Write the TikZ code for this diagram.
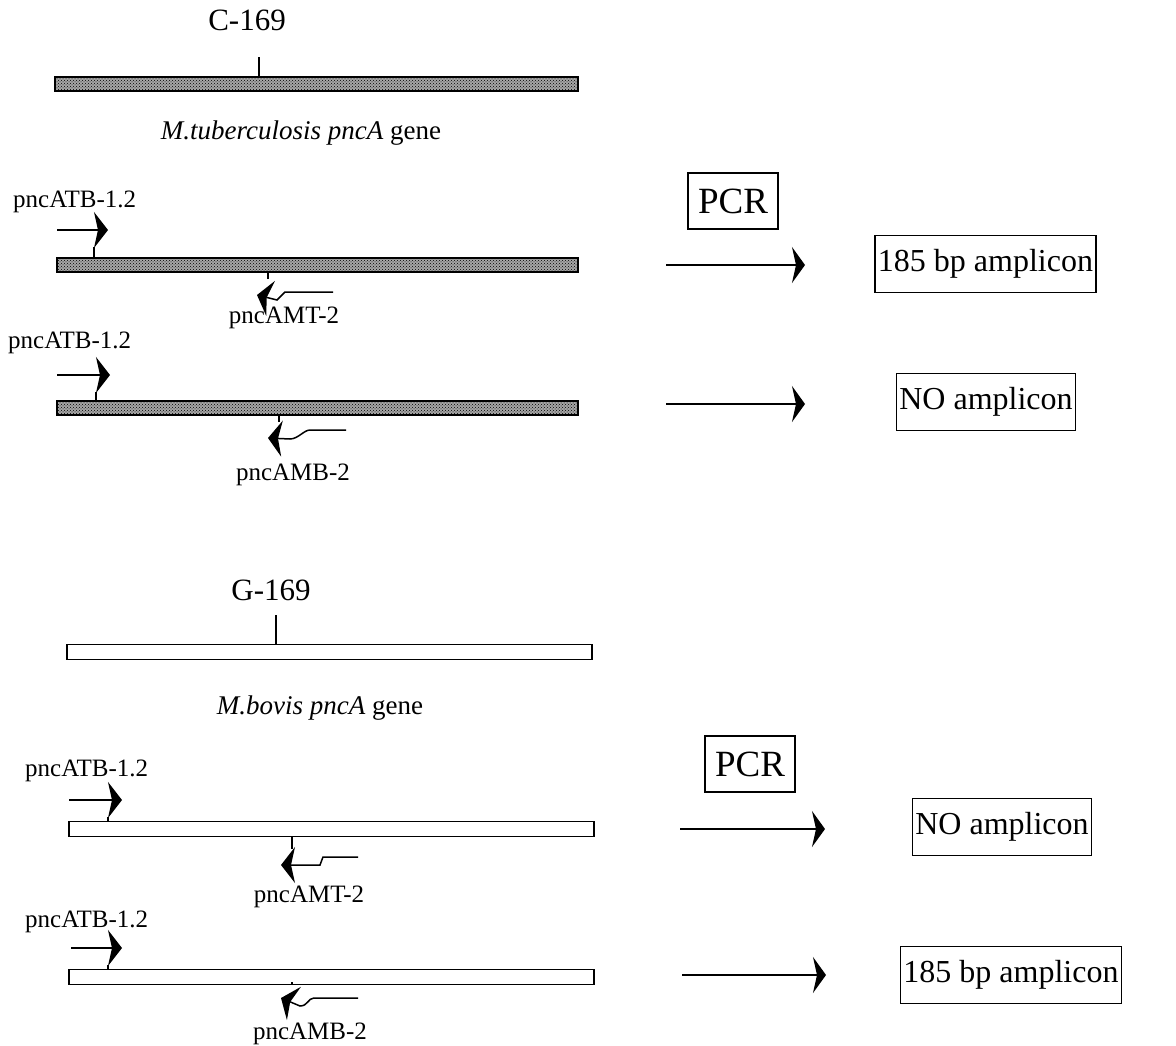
\documentclass[tikz,border=0pt]{standalone}
\usepackage{fontspec}
\setmainfont{Liberation Serif}
\usetikzlibrary{arrows.meta,positioning,calc,patterns}

\begin{document}
\begin{tikzpicture}[x=1pt, y=-1pt,
    tbgene/.style={rectangle, draw, line width=1.8pt, preaction={fill=black!35}, pattern=crosshatch dots, pattern color=black, minimum height=14pt, inner sep=0pt},
    bvgene/.style={rectangle, draw, line width=1.4pt, minimum height=15pt, inner sep=0pt},
    site/.style={font=\fontsize{31}{35}\selectfont},
    glabel/.style={font=\fontsize{27}{31}\selectfont},
    plabel/.style={font=\fontsize{25}{28}\selectfont, inner sep=0pt},
    result/.style={rectangle, draw, line width=1.3pt, font=\fontsize{32}{36}\selectfont, minimum height=57pt, inner xsep=3pt},
    pcr/.style={rectangle, draw, line width=1.3pt, font=\fontsize{37}{40}\selectfont, minimum width=90pt, minimum height=56pt, inner xsep=2pt},
    primer/.style={line width=1.5pt, -{Stealth[length=14pt, width=36pt, inset=4pt]}},
    stem/.style={line width=1.5pt},
    flow/.style={line width=1.5pt, -{Stealth[length=13pt, width=36pt, inset=4pt]}}
]
    \useasboundingbox (0,0) rectangle (1176,1045);

    % M. tuberculosis pncA
    \node[site] (c169) at (247,20) {C-169};
    \node[tbgene, minimum width=523pt] (tb0) at (316.5,84) {};
    \coordinate (c169t) at (259,57);
    \draw[stem] (c169t) -- (c169t |- tb0.north);
    \node[glabel] (tbname) at (301,133) {\textit{M.tuberculosis pncA} gene};

    \node[plabel, anchor=west] (atb1) at (13,202) {pncATB-1.2};
    \node[tbgene, minimum width=521pt] (tb1) at (317.5,265) {};
    \coordinate (f1s) at (57,230);
    \coordinate (f1e) at (108,230);
    \coordinate (f1b) at ($(f1e)+(-14,17)$);
    \draw[primer] (f1s) -- (f1e);
    \draw[stem] (f1b) -- (f1b |- tb1.north);
    \coordinate (r1s) at (257,295);
    \coordinate (r1e) at (333,292);
    \coordinate (r1b) at ($(r1s)+(11,-16)$);
    \draw[primer] (r1e) -- ++(-48,0) -- ++(-8,8) -- (r1s);
    \draw[stem] (r1b) -- (r1b |- tb1.south);
    \node[plabel] (amt1) at (284,318) {pncAMT-2};

    \node[plabel, anchor=west] (atb2) at (8,343) {pncATB-1.2};
    \node[tbgene, minimum width=521pt] (tb2) at (317.5,408) {};
    \coordinate (f2s) at (57,375);
    \coordinate (f2e) at (110,375);
    \coordinate (f2b) at ($(f2e)+(-14,17)$);
    \draw[primer] (f2s) -- (f2e);
    \draw[stem] (f2b) -- (f2b |- tb2.north);
    \coordinate (r2s) at (268,438);
    \coordinate (r2e) at (346,430);
    \coordinate (r2b) at ($(r2s)+(11,-16)$);
    \draw[primer] (r2e) -- ++(-36,0) .. controls +(-6,0) and +(8,0) .. ++(-20,9) -- (r2s);
    \draw[stem] (r2b) -- (r2b |- tb2.south);
    \node[plabel] (amb1) at (293,475) {pncAMB-2};

    \node[pcr] (pcr1) at (733,201) {PCR};
    \coordinate (a1s) at (666,265);
    \coordinate (a1e) at (805,265);
    \draw[flow] (a1s) -- (a1e);
    \node[result] (res1) at (985.5,264) {185 bp amplicon};
    \coordinate (a2s) at (666,404);
    \coordinate (a2e) at (805,404);
    \draw[flow] (a2s) -- (a2e);
    \node[result] (res2) at (986,402) {NO amplicon};

    % M. bovis pncA
    \node[site] (g169) at (271,590) {G-169};
    \node[bvgene, minimum width=525pt] (bv0) at (329.5,652) {};
    \coordinate (g169t) at (276,615);
    \draw[stem] (g169t) -- (g169t |- bv0.north);
    \node[glabel] (bvname) at (320,708) {\textit{M.bovis pncA} gene};

    \node[plabel, anchor=west] (atb3) at (25,771) {pncATB-1.2};
    \node[bvgene, minimum width=525pt] (bv1) at (331.5,829) {};
    \coordinate (f3s) at (69,800);
    \coordinate (f3e) at (122,800);
    \coordinate (f3b) at ($(f3e)+(-14,17)$);
    \draw[primer] (f3s) -- (f3e);
    \draw[stem] (f3b) -- (f3b |- bv1.north);
    \coordinate (r3s) at (281,865);
    \coordinate (r3e) at (358,857);
    \coordinate (r3b) at ($(r3s)+(11,-16)$);
    \draw[primer] (r3e) -- ++(-35,0) -- ++(-3,8) -- (r3s);
    \draw[stem] (r3b) -- (r3b |- bv1.south);
    \node[plabel] (amt2) at (309,897) {pncAMT-2};

    \node[plabel, anchor=west] (atb4) at (25,922) {pncATB-1.2};
    \node[bvgene, minimum width=525pt] (bv2) at (331.5,977) {};
    \coordinate (f4s) at (71,948);
    \coordinate (f4e) at (122,948);
    \coordinate (f4b) at ($(f4e)+(-14,17)$);
    \draw[primer] (f4s) -- (f4e);
    \draw[stem] (f4b) -- (f4b |- bv2.north);
    \coordinate (r4s) at (281,998);
    \coordinate (r4e) at (358,998);
    \coordinate (r4b) at ($(r4s)+(11,-16)$);
    \draw[primer] (r4e) -- ++(-44,0) .. controls +(-6,0) and +(8,0) .. ++(-14,8) -- (r4s);
    \draw[stem] (r4b) -- (r4b |- bv2.south);
    \node[plabel] (amb2) at (310,1034) {pncAMB-2};

    \node[pcr] (pcr2) at (750,764) {PCR};
    \coordinate (a3s) at (680,829);
    \coordinate (a3e) at (825,829);
    \draw[flow] (a3s) -- (a3e);
    \node[result] (res3) at (1002,827) {NO amplicon};
    \coordinate (a4s) at (682,975);
    \coordinate (a4e) at (826,975);
    \draw[flow] (a4s) -- (a4e);
    \node[result] (res4) at (1011,975) {185 bp amplicon};
\end{tikzpicture}
\end{document}
